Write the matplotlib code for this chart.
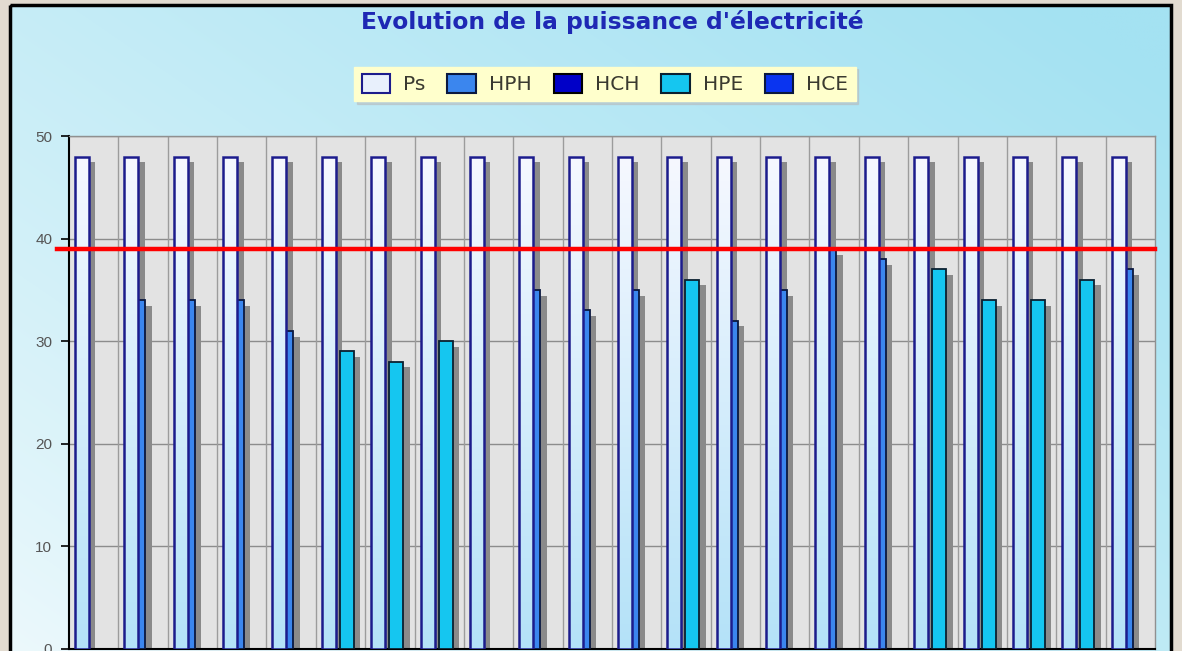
import numpy as np
import matplotlib
matplotlib.use("Agg")
import matplotlib.pyplot as plt
from matplotlib.patches import Rectangle

# ---------------- data ----------------
periods = list(range(1, 23))            # 22 periods (groups)
ps  = [48] * 22                          # puissance souscrite
hph = [0, 34, 34, 34, 31, 0, 0, 0, 0, 35, 33, 35, 0, 32, 35, 39, 38, 0, 0, 0, 0, 37]
hch = [0] * 22
hpe = [0, 0, 0, 0, 0, 29, 28, 30, 0, 0, 0, 0, 36, 0, 0, 0, 0, 37, 34, 34, 36, 0]
hce = [0] * 22
threshold = 39
series_names = ["Ps", "HPH", "HCH", "HPE", "HCE"]
yticks = [0, 10, 20, 30, 40, 50]
title = "Evolution de la puissance d'électricité"

# ---------------- figure ----------------
W, H = 1182, 651
fig = plt.figure(figsize=(W / 100, H / 100), dpi=100)
fig.patch.set_facecolor('#e2dbd0')

# background panel with gradient
bg = fig.add_axes([0, 0, 1, 1])
nx, ny = 240, 140
X, Y = np.meshgrid(np.linspace(0, 1, nx), np.linspace(0, 1, ny))
t = np.clip(0.55 * X + 0.45 * (1 - Y) + 0.05, 0, 1) ** 0.8
c0 = np.array([0xf4, 0xfb, 0xfd]) / 255
c1 = np.array([0xa4, 0xe2, 0xf2]) / 255
img = c0 * (1 - t[..., None]) + c1 * t[..., None]
bg.imshow(img, extent=(10, 1171, 660, 5), aspect='auto', interpolation='bilinear')
bg.add_patch(Rectangle((10, 5), 1161, 660, fill=False, ec='black', lw=2.5))
bg.set_xlim(0, W)
bg.set_ylim(H, 0)
bg.axis('off')

# main axes
ax = fig.add_axes([69 / W, 1 - 649 / H, (1155 - 69) / W, (649 - 136) / H])
ax.set_facecolor('#e3e3e3')
n = len(periods)
x = np.arange(n)
ax.set_xlim(-0.5, n - 0.5)
ax.set_ylim(0, 50)
ax.set_axisbelow(True)
ax.set_yticks(yticks)
ax.yaxis.grid(True, color='#8c8c8c', lw=1)
for b in np.arange(0.5, n - 0.5, 1):
    ax.axvline(b, color='#9c9c9c', lw=1, zorder=0.8)

w = 14 / 49.36
offsets = {"Ps": -0.378, "HPH": -0.237, "HCH": -0.12, "HPE": -0.014, "HCE": 0.06}
values = {"Ps": ps, "HPH": hph, "HCH": hch, "HPE": hpe, "HCE": hce}
colors = {"Ps": '#e8f0fc', "HPH": '#3b86ee', "HCH": '#0000c8', "HPE": '#15c6f0', "HCE": '#0a34f0'}
edges = {"Ps": '#1c1c8c', "HPH": '#0a1840', "HCH": '#000000', "HPE": '#0a2030', "HCE": '#0a1840'}

# shadows
dx, dy = 0.13, 0.55
for name in series_names:
    v = np.array(values[name], dtype=float)
    m = v > 0
    ax.bar(x[m] + offsets[name] + dx, v[m] - dy + 1, bottom=-1, width=w, align='edge',
           color='#8a8a8a', lw=0, zorder=2)

# coloured bars
for name in ["HPH", "HCH", "HPE", "HCE"]:
    v = np.array(values[name], dtype=float)
    m = v > 0
    ax.bar(x[m] + offsets[name], v[m], width=w, align='edge', color=colors[name],
           edgecolor=edges[name], lw=1.3, zorder=3)

# Ps bars with vertical gradient
grad = np.linspace(0, 1, 100)[:, None]
top_c = np.array([0xf6, 0xf8, 0xff]) / 255
bot_c = np.array([0xb4, 0xe2, 0xf8]) / 255
gimg = top_c * (1 - grad[..., None]) + bot_c * grad[..., None]
gimg = np.repeat(gimg, 4, axis=1)
for xi, v in zip(x, ps):
    x0 = xi + offsets["Ps"]
    ax.imshow(gimg, extent=(x0, x0 + w, 0, v), aspect='auto', zorder=4,
              interpolation='bilinear')
ax.bar(x + offsets["Ps"], ps, width=w, align='edge', fill=False,
       edgecolor=edges["Ps"], lw=1.8, zorder=4.5)
ax.set_xlim(-0.5, n - 0.5)
ax.set_ylim(0, 50)
ax.set_aspect('auto')

# threshold line
ax.axhline(threshold, xmin=-12 / 1086, xmax=1.0, color='#ff0000', lw=3.2, zorder=6,
           clip_on=False)

# axes style
ax.tick_params(axis='y', length=6, width=1.2, color='black', direction='out', pad=6,
               labelsize=11, labelcolor='#555555')
ax.tick_params(axis='x', length=0, labelbottom=False)
ax.set_xticks([])
for lab in ax.get_yticklabels():
    lab.set_family('Liberation Sans')
ax.spines['left'].set_color('black')
ax.spines['left'].set_linewidth(1.5)
ax.spines['bottom'].set_color('black')
ax.spines['bottom'].set_linewidth(1.5)
for s in ['top', 'right']:
    ax.spines[s].set_color('#909090')
    ax.spines[s].set_linewidth(1)

# title
fig.text(612 / W, 1 - 22 / H, title, ha='center', va='center', fontsize=16.8,
         fontweight='bold', color='#1e28b4', family='DejaVu Sans')

# legend
handles = [Rectangle((0, 0), 1, 1, facecolor=colors[s], edgecolor=edges[s], lw=1.5)
           for s in series_names]
leg = fig.legend(handles, series_names, ncol=5, loc='center',
                 bbox_to_anchor=(605 / W, 1 - 84 / H), frameon=True,
                 facecolor='#ffffcc', edgecolor='#ffffcc', fancybox=False,
                 shadow={'color': '#b8b8b8'}, framealpha=1,
                 prop={'family': 'DejaVu Sans', 'size': 14.5},
                 handlelength=1.4, handleheight=1.1, handletextpad=0.65,
                 columnspacing=1.1, borderpad=0.35)
for txt in leg.get_texts():
    txt.set_color('#3a3a30')

fig.savefig('out.png', dpi=100, facecolor=fig.get_facecolor())
